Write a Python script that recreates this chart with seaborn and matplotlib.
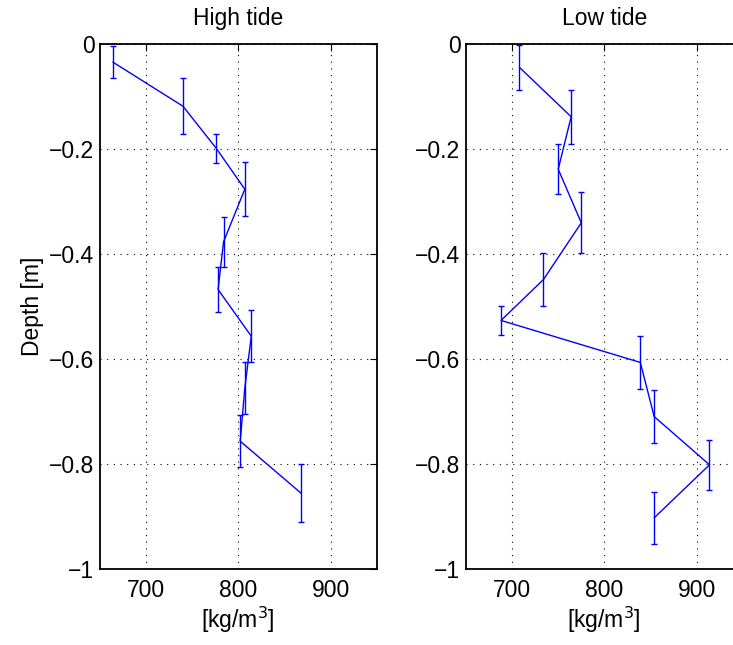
import matplotlib
matplotlib.use("Agg")
import matplotlib.pyplot as plt
import seaborn as sns
import numpy as np
import pandas as pd

# ---- data ----
high_density = [664, 740, 776, 807, 784, 778, 814, 807, 802, 868]
high_depth = [-0.034, -0.118, -0.198, -0.276, -0.376, -0.467, -0.556, -0.655, -0.756, -0.855]
high_err = [0.031, 0.053, 0.028, 0.051, 0.048, 0.042, 0.049, 0.049, 0.049, 0.055]

low_density = [708, 764, 750, 775, 734, 688, 839, 854, 914, 854]
low_depth = [-0.044, -0.138, -0.238, -0.340, -0.448, -0.526, -0.606, -0.709, -0.801, -0.902]
low_err = [0.043, 0.051, 0.048, 0.058, 0.050, 0.028, 0.051, 0.051, 0.048, 0.049]

titles = ["High tide", "Low tide"]
xticks = [700, 800, 900]
xtick_labels = ["700", "800", "900"]
yticks = [-1.0, -0.8, -0.6, -0.4, -0.2, 0.0]
ytick_labels = ["\u22121", "\u22120.8", "\u22120.6", "\u22120.4", "\u22120.2", "0"]

sns.set_style("white")
plt.rcParams["font.family"] = ["Liberation Sans", "DejaVu Sans"]
plt.rcParams["font.size"] = 16.5
plt.rcParams["text.color"] = "black"
plt.rcParams["axes.labelcolor"] = "black"
plt.rcParams["xtick.color"] = "black"
plt.rcParams["ytick.color"] = "black"

fig = plt.figure(figsize=(7.33, 6.45), dpi=100)
ax1 = fig.add_axes([100 / 733, 75.7 / 645, 276.7 / 733, 525 / 645])
ax2 = fig.add_axes([466 / 733, 75.7 / 645, 276.7 / 733, 525 / 645])

datasets = [
    (high_density, high_depth, high_err),
    (low_density, low_depth, low_err),
]

for ax, (dens, dep, err), title in zip([ax1, ax2], datasets, titles):
    df = pd.DataFrame({"density": dens, "depth": dep, "err": err})
    sns.lineplot(data=df, x="density", y="depth", sort=False, estimator=None,
                 color="#0000ff", linewidth=1.0, ax=ax)
    ax.errorbar(df["density"], df["depth"], yerr=df["err"], fmt="none",
                ecolor="#0000ff", elinewidth=1.0, capsize=2.2, capthick=1.0)
    ax.set_xlim(650, 950)
    ax.set_ylim(-1, 0)
    ax.set_xticks(xticks)
    ax.set_xticklabels(xtick_labels)
    ax.set_yticks(yticks)
    ax.set_yticklabels(ytick_labels)
    ax.grid(True, color="black", linestyle=(0, (1, 5)), linewidth=0.8)
    ax.tick_params(direction="in", top=True, right=True, length=5, width=0.8,
                   labelsize=16.5, colors="black")
    ax.tick_params(axis="y", pad=4)
    ax.tick_params(axis="x", pad=7)
    for sp in ax.spines.values():
        sp.set_visible(True)
        sp.set_color("black")
        sp.set_linewidth(1.3)
    ax.set_title(title, fontsize=16.5, pad=14, color="black")
    ax.set_xlabel("[kg/m$^3$]", fontsize=16.5, labelpad=2, color="black")
    ax.set_ylabel("")

ax1.set_ylabel("Depth [m]", fontsize=16.5, labelpad=4, color="black")

fig.savefig("out.png", dpi=100, facecolor="white")
